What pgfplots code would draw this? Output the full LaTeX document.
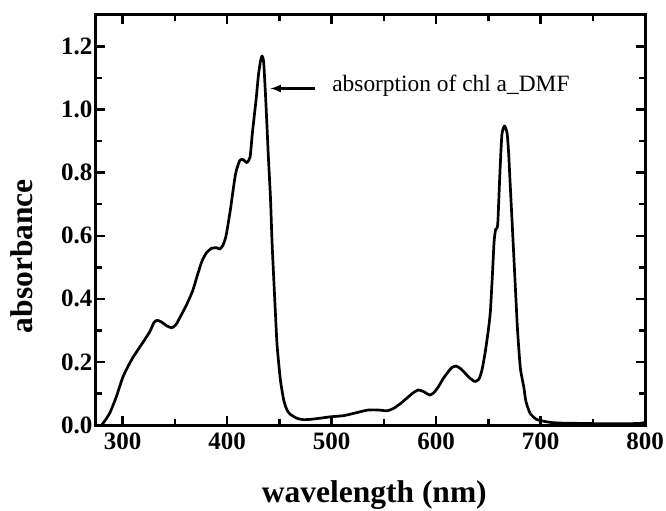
\documentclass[border=0pt]{standalone}
\usepackage{fontspec}
\setmainfont{Liberation Serif}
\usepackage{pgfplots}
\pgfplotsset{compat=1.18}
\begin{document}
\begin{tikzpicture}
\begin{axis}[
  at={(0,0)}, anchor=south west,
  scale only axis, width=549bp, height=410bp,
  xmin=274.5, xmax=800, ymin=0, ymax=1.3,
  xtick={300,400,500,600,700,800}, minor x tick num=1,
  ytick={0,0.2,0.4,0.6,0.8,1.0,1.2}, minor y tick num=1,
  tick align=inside,
  major tick length=9bp, minor tick length=6bp,
  axis line style={line width=3bp},
  every tick/.style={black, line width=2.5bp},
  /pgf/number format/assume math mode=true,
  ticklabel style={font=\bfseries\fontsize{25bp}{28bp}\selectfont},
  yticklabel style={/pgf/number format/.cd, fixed, fixed zerofill, precision=1},
  xticklabel style={yshift=-4bp},
  xlabel={wavelength (nm)},
  ylabel={absorbance},
  label style={font=\bfseries\fontsize{31.5bp}{34bp}\selectfont, inner sep=0pt},
  xlabel style={at={(axis description cs:0.507,-0.190)}, anchor=base},
  ylabel style={at={(axis description cs:-0.1148,0.412)}, anchor=south},
]
\addplot[black, line width=2.7bp, line join=round, smooth, tension=0.35] coordinates {
(280,0.0) (284,0.018) (288,0.04) (294,0.09) (300,0.15) (305,0.185) (310,0.215)
(315,0.24) (320,0.265) (326,0.296) (330,0.325) (333,0.332) (337,0.327) (342,0.315)
(347,0.308) (351,0.318) (355,0.342) (361,0.38) (367,0.425) (372,0.48) (376,0.52)
(380,0.545) (385,0.56) (390,0.562) (393,0.558) (396,0.57) (399,0.6) (403,0.68)
(408,0.795) (412,0.838) (415,0.842) (419,0.832) (422,0.85) (424,0.92) (426,0.98)
(428,1.04) (430,1.11) (432,1.155) (433.5,1.17) (435,1.15) (437,1.03) (439.5,0.85)
(441.5,0.72) (443,0.58) (444.7,0.46) (446.3,0.35) (447.9,0.25) (451,0.143) (454.2,0.079)
(457,0.05) (460,0.035) (467,0.021) (473,0.017) (480,0.018) (490,0.022) (499,0.026)
(510,0.029) (515,0.032) (525,0.04) (534,0.047) (541,0.048) (547,0.047) (553,0.045)
(559,0.052) (566,0.068) (572,0.085) (578,0.102) (583,0.111) (588,0.106) (594,0.095)
(598,0.103) (602,0.12) (607,0.148) (611,0.166) (615,0.182) (619,0.187) (623,0.18)
(627,0.167) (632,0.15) (637,0.138) (641,0.145) (644,0.175) (647,0.23) (650,0.3)
(652,0.36) (654,0.48) (655.5,0.58) (657,0.62) (659,0.635) (661,0.79) (663,0.92)
(665.5,0.948) (668,0.925) (669.5,0.86) (671,0.76) (673,0.63) (676,0.43) (678,0.3)
(680.7,0.18) (684,0.12) (686,0.075) (690,0.037) (696,0.018) (703,0.012) (710,0.008)
(720,0.006) (740,0.005) (760,0.004) (780,0.004) (795,0.005) (800,0.008)
};
\draw[-latex, line width=2.5bp] (axis cs:484.6,1.067) -- (axis cs:441.5,1.067);
\node[anchor=base west, inner sep=0pt, font=\fontsize{23.4bp}{26bp}\selectfont] at (axis cs:500.5,1.056) {absorption of chl a\_DMF};
\end{axis}
\pgfresetboundingbox
\useasboundingbox (-96bp,-86bp) rectangle (570bp,425bp);
\end{tikzpicture}
\end{document}
